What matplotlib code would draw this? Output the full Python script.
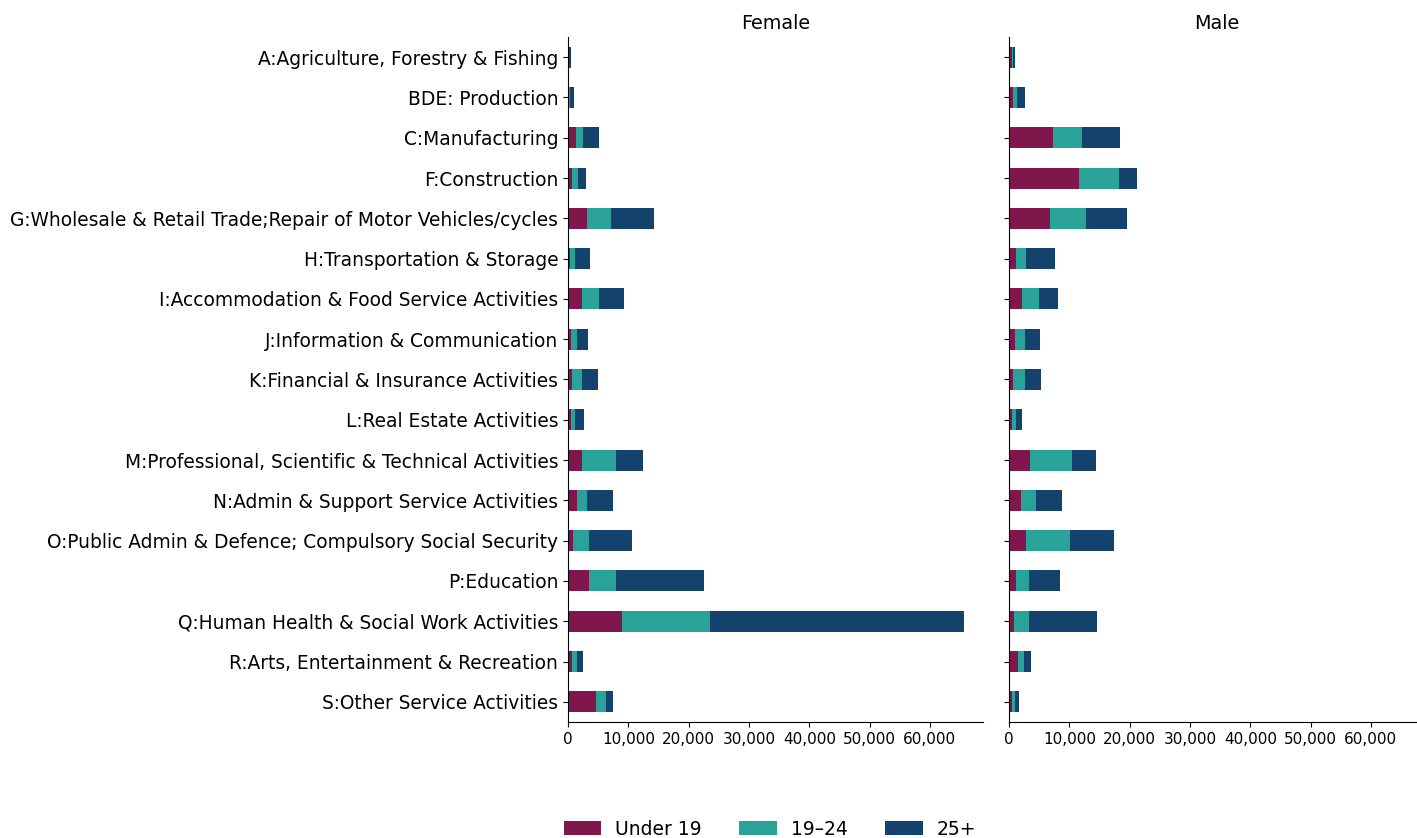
import numpy as np
import matplotlib
matplotlib.use("Agg")
import matplotlib.pyplot as plt
from matplotlib.ticker import FuncFormatter

industries = [
    "A:Agriculture, Forestry & Fishing",
    "BDE: Production",
    "C:Manufacturing",
    "F:Construction",
    "G:Wholesale & Retail Trade;Repair of Motor Vehicles/cycles",
    "H:Transportation & Storage",
    "I:Accommodation & Food Service Activities",
    "J:Information & Communication",
    "K:Financial & Insurance Activities",
    "L:Real Estate Activities",
    "M:Professional, Scientific & Technical Activities",
    "N:Admin & Support Service Activities",
    "O:Public Admin & Defence; Compulsory Social Security",
    "P:Education",
    "Q:Human Health & Social Work Activities",
    "R:Arts, Entertainment & Recreation",
    "S:Other Service Activities",
]

age_groups = ["Under 19", "19\u201324", "25+"]

female_u19 = [250, 60, 1270, 610, 3100, 280, 2270, 450, 620, 450, 2270, 1440, 780, 3430, 8900, 620, 4600]
female_1924 = [60, 250, 1160, 1000, 3980, 830, 2820, 1000, 1660, 660, 5640, 1660, 2650, 4480, 14600, 830, 1660]
female_25p = [200, 700, 2650, 1330, 7130, 2490, 4150, 1820, 2650, 1490, 4480, 4310, 7130, 14600, 42100, 1000, 1160]

male_u19 = [500, 660, 7310, 11630, 6810, 1160, 2160, 1000, 660, 500, 3490, 1990, 2820, 1160, 830, 1500, 500]
male_1924 = [170, 660, 4820, 6640, 5980, 1660, 2820, 1660, 1990, 660, 6980, 2490, 7310, 2160, 2490, 1000, 500]
male_25p = [330, 1330, 6310, 2990, 6810, 4820, 3160, 2490, 2660, 1000, 3990, 4320, 7310, 5150, 11300, 1160, 660]

colors = ["#80174C", "#29A397", "#13426C"]

W, H = 1417, 838
fig = plt.figure(figsize=(W / 100, H / 100), dpi=100)


def px_axes(x0, x1, y0, y1):
    return fig.add_axes([x0 / W, 1 - y1 / H, (x1 - x0) / W, (y1 - y0) / H])


ax_f = px_axes(568, 983, 37, 722)
ax_m = px_axes(1009, 1424, 37, 722)

y = np.arange(len(industries))
xmax = 68800
fmt = FuncFormatter(lambda v, p: f"{int(v):,}")

for ax, series, title in [
    (ax_f, [female_u19, female_1924, female_25p], "Female"),
    (ax_m, [male_u19, male_1924, male_25p], "Male"),
]:
    left = np.zeros(len(industries))
    for vals, col, lab in zip(series, colors, age_groups):
        ax.barh(y, vals, left=left, height=0.52, color=col, label=lab)
        left += np.array(vals)
    ax.set_xlim(0, xmax)
    ax.set_ylim(len(industries) - 0.5, -0.5)
    ax.set_yticks(y)
    ax.set_xticks(np.arange(0, 60001, 10000))
    ax.xaxis.set_major_formatter(fmt)
    ax.tick_params(axis="x", labelsize=11)
    ax.spines["top"].set_visible(False)
    ax.spines["right"].set_visible(False)
    ax.set_title(title, fontsize=13.8, pad=6)

ax_f.set_yticklabels(industries, fontsize=13.4)
ax_m.set_yticklabels([])

handles, labels = ax_f.get_legend_handles_labels()
fig.legend(handles, labels, loc="center", bbox_to_anchor=(770 / W, 1 - 829 / H),
           ncol=3, frameon=False, fontsize=13.5, handlelength=2.0,
           handleheight=0.8, handletextpad=0.75, columnspacing=2.0)

fig.savefig("out.png", dpi=100)
